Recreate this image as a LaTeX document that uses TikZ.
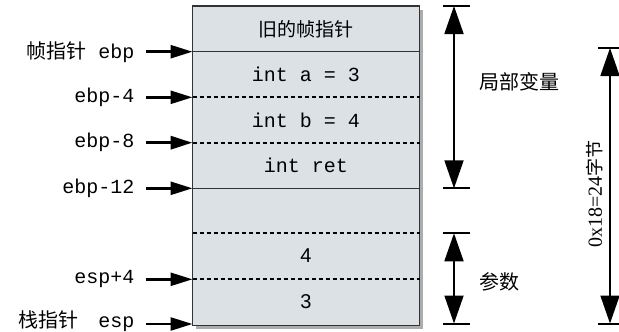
\documentclass[tikz,border=0pt]{standalone}
\usepackage{fontspec}
\setmainfont{Liberation Serif}
\setsansfont{Liberation Sans}
\setmonofont{Liberation Mono}
\newfontfamily\cjk{Noto Sans CJK SC}
\usetikzlibrary{arrows.meta}
\definecolor{boxgray}{RGB}{220,225,229}
\begin{document}
\begin{tikzpicture}[x=1pt, y=-1pt,
                cell/.style={font=\ttfamily\fontsize{20}{20}\selectfont},
                num/.style={font=\sffamily\fontsize{20}{20}\selectfont},
                lbl/.style={anchor=east, font=\ttfamily\fontsize{20}{20}\selectfont},
                ptr/.style={-{Triangle[length=22pt, width=13pt]}, line width=2.6pt, shorten <=8pt},
                dim/.style={{Triangle[length=28pt, width=19pt]}-{Triangle[length=28pt, width=19pt]}, line width=1.8pt},
                tk/.style={line width=2pt},
                sep/.style={line width=1.9pt, dash pattern=on 4pt off 3pt}
            ]
            \useasboundingbox (0,0) rectangle (619,332);
            % stack box
            \fill[gray!65] (196,10) rectangle (423,329);
            \draw[fill=boxgray, line width=1.2pt, draw=black!80] (192.5,6) rectangle (419.5,325.5);
            \draw[line width=1.3pt, draw=black!80] (192.5,51.7) -- (419.5,51.7);
            \draw[line width=1.3pt, draw=black!80] (192.5,188.3) -- (419.5,188.3);
            \foreach \y in {97.3, 142.7, 233.3, 279.3}
                \draw[sep] (192.5,\y) -- (419.5,\y);
            \node[font=\cjk\fontsize{19}{19}\selectfont] (old) at (306, 29)  {旧的帧指针};
            \node[cell] (va)  at (306, 74.5)  {int a = 3};
            \node[cell] (vb)  at (306, 120)   {int b = 4};
            \node[cell] (ret) at (306, 165.5) {int ret};
            \node[num]  (p2)  at (306, 256)   {4};
            \node[num]  (p1)  at (306, 302)   {3};
            % pointers
            \coordinate (e0) at (192.5, 51.7);
            \coordinate (e1) at (192.5, 97.3);
            \coordinate (e2) at (192.5, 142.7);
            \coordinate (e3) at (192.5, 188.3);
            \coordinate (s1) at (192.5, 279.3);
            \coordinate (s0) at (192.5, 324);
            \node[lbl] (ebp)   at (138, 51.7)  {{\cjk 帧指针} ebp};
            \node[lbl] (ebpm4) at (138, 97.3)  {ebp-4};
            \node[lbl] (ebpm8) at (138, 142.7) {ebp-8};
            \node[lbl] (ebpm12) at (138, 188.3) {ebp-12};
            \node[lbl] (espp4) at (138, 279.3) {esp+4};
            \node[lbl] (esp)   at (138, 321)   {{\cjk 栈指针}\hspace{20pt}esp};
            \draw[ptr] (ebp) -- (e0);
            \draw[ptr] (ebpm4) -- (e1);
            \draw[ptr, line width=3.4pt] (ebpm8) -- (e2);
            \draw[ptr] (ebpm12) -- (e3);
            \draw[ptr] (espp4) -- (s1);
            \draw[ptr] (esp.east |- s0) -- (s0);
            % sizes
            \coordinate (lt) at (454, 6);
            \coordinate (lb) at (454, 188.3);
            \coordinate (at) at (454, 233.3);
            \coordinate (ab) at (454, 323.5);
            \coordinate (ft) at (610, 48);
            \coordinate (fb) at (610, 323.5);
            \draw[tk] (443,6) -- (470,6);
            \draw[tk] (443,188.3) -- (470,188.3);
            \draw[tk] (443,233.3) -- (470,233.3);
            \draw[tk] (443,323.5) -- (470,323.5);
            \draw[tk] (598,48) -- (619,48);
            \draw[tk] (598,323.5) -- (619,323.5);
            \draw[dim] (lt) -- (lb);
            \draw[dim] (at) -- (ab);
            \draw[dim] (ft) -- (fb);
            \node[anchor=west, font=\cjk\fontsize{20}{20}\selectfont] (loc) at (476, 82) {局部变量};
            \node[anchor=west, font=\cjk\fontsize{20}{20}\selectfont] (arg) at (476, 282) {参数};
            \node[rotate=90, font=\rmfamily\fontsize{20}{20}\selectfont] (total) at (595, 194) {0x18=24{\cjk\fontsize{18}{18}\selectfont 字节}};
            \end{tikzpicture}
\end{document}
